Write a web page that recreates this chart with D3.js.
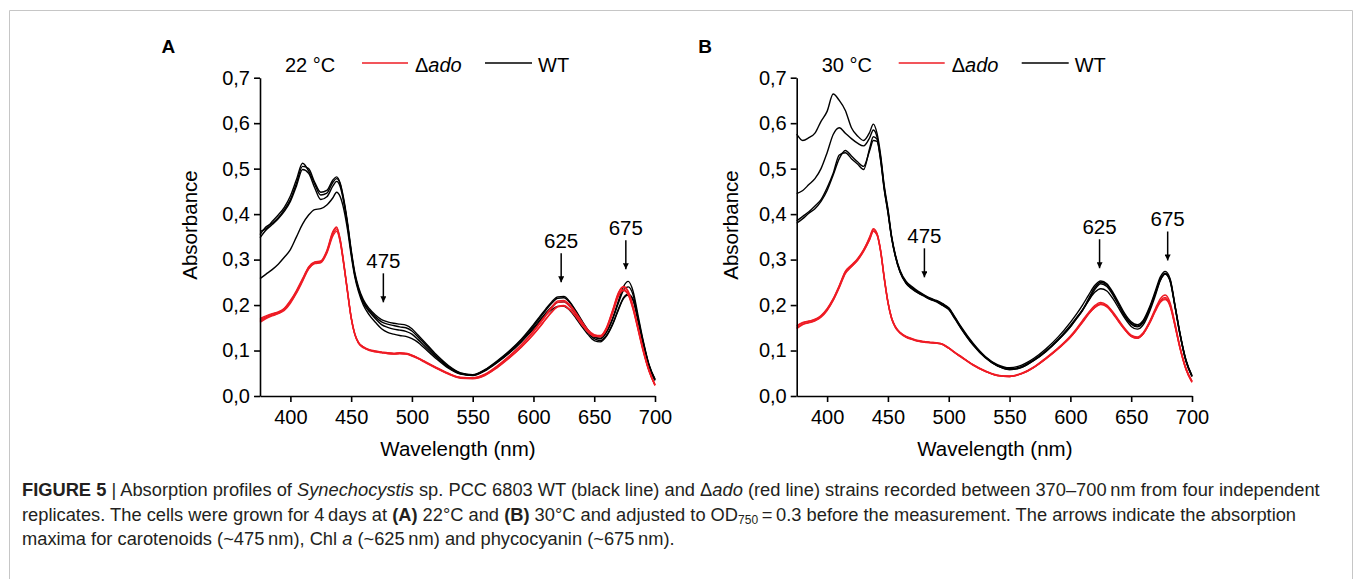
<!DOCTYPE html>
<html>
<head>
<meta charset="utf-8">
<script src="https://cdn.jsdelivr.net/npm/d3@7"></script>
<style>
  body { margin: 0; background: #fff; }
  svg { display: block; font-family: "Liberation Sans", Arial, Helvetica, sans-serif; }
</style>
</head>
<body>
<script>
// wavelength grid (nm) shared by every spectrum
const wavelengths = [
  375, 380, 385, 390, 395, 400, 405, 410, 415, 420,
  425, 430, 435, 438, 441, 444, 447, 450, 453, 456,
  460, 465, 470, 475, 480, 485, 490, 495, 500, 505,
  510, 520, 530, 540, 550, 560, 570, 580, 590, 600,
  605, 610, 615, 620, 625, 630, 635, 640, 645, 650,
  655, 660, 665, 670, 674, 678, 682, 686, 690, 695, 700
];

const yTicks = [0, 0.1, 0.2, 0.3, 0.4, 0.5, 0.6, 0.7];
const xTicks = [400, 450, 500, 550, 600, 650, 700];

// (A) 22 °C, WT replicates
const wtA1 = [
  0.355,0.372,0.380,0.392,0.410,0.432,0.468,0.505,0.500,0.470,
  0.448,0.452,0.475,0.482,0.468,0.432,0.382,0.322,0.272,0.240,
  0.212,0.192,0.178,0.168,0.163,0.160,0.158,0.156,0.148,0.134,
  0.120,0.091,0.067,0.051,0.047,0.058,0.077,0.099,0.125,0.157,
  0.174,0.191,0.207,0.218,0.219,0.207,0.187,0.165,0.145,0.130,
  0.126,0.140,0.170,0.210,0.240,0.252,0.230,0.178,0.125,0.070,0.037];
const wtA2 = [
  0.362,0.368,0.384,0.398,0.415,0.440,0.476,0.512,0.495,0.466,
  0.442,0.446,0.470,0.478,0.466,0.428,0.378,0.318,0.268,0.236,
  0.208,0.188,0.174,0.163,0.158,0.155,0.152,0.150,0.143,0.130,
  0.116,0.088,0.065,0.050,0.046,0.057,0.075,0.097,0.123,0.154,
  0.171,0.188,0.204,0.215,0.216,0.205,0.185,0.163,0.144,0.130,
  0.127,0.141,0.168,0.205,0.232,0.240,0.222,0.172,0.122,0.068,0.036];
const wtA3 = [
  0.348,0.365,0.377,0.390,0.406,0.428,0.462,0.498,0.490,0.458,
  0.432,0.438,0.462,0.472,0.460,0.425,0.376,0.316,0.266,0.234,
  0.205,0.185,0.170,0.157,0.151,0.147,0.145,0.142,0.136,0.124,
  0.111,0.085,0.063,0.049,0.046,0.056,0.074,0.095,0.120,0.150,
  0.166,0.182,0.196,0.206,0.207,0.197,0.179,0.158,0.140,0.126,
  0.122,0.133,0.158,0.192,0.216,0.224,0.212,0.168,0.120,0.067,0.035];
const wtA4 = [
  0.258,0.268,0.278,0.290,0.305,0.322,0.350,0.378,0.398,0.410,
  0.412,0.420,0.436,0.448,0.438,0.410,0.366,0.310,0.262,0.230,
  0.200,0.178,0.162,0.148,0.140,0.136,0.133,0.131,0.126,0.118,
  0.106,0.082,0.061,0.048,0.045,0.055,0.073,0.094,0.119,0.147,
  0.163,0.178,0.190,0.197,0.197,0.188,0.171,0.152,0.135,0.122,
  0.119,0.131,0.156,0.190,0.214,0.222,0.210,0.166,0.118,0.066,0.034];

// (A) 22 °C, Δado replicates
const adoA1 = [
  0.170,0.176,0.181,0.185,0.193,0.210,0.232,0.258,0.284,0.295,
  0.297,0.320,0.362,0.372,0.345,0.292,0.232,0.174,0.137,0.118,
  0.108,0.102,0.099,0.097,0.095,0.094,0.095,0.094,0.090,0.084,
  0.077,0.063,0.050,0.041,0.040,0.048,0.066,0.088,0.113,0.143,
  0.160,0.178,0.196,0.209,0.210,0.200,0.183,0.163,0.145,0.135,
  0.133,0.150,0.188,0.228,0.241,0.230,0.197,0.152,0.106,0.058,0.025];
const adoA2 = [
  0.165,0.172,0.178,0.182,0.190,0.206,0.228,0.254,0.280,0.292,
  0.294,0.316,0.356,0.366,0.340,0.288,0.229,0.172,0.136,0.117,
  0.107,0.101,0.098,0.096,0.094,0.093,0.094,0.093,0.089,0.083,
  0.076,0.062,0.049,0.041,0.040,0.047,0.065,0.087,0.112,0.141,
  0.158,0.176,0.193,0.206,0.207,0.197,0.180,0.160,0.143,0.133,
  0.132,0.149,0.186,0.226,0.239,0.228,0.195,0.150,0.105,0.057,0.024];
const adoA3 = [
  0.168,0.174,0.180,0.184,0.192,0.208,0.230,0.256,0.283,0.294,
  0.296,0.318,0.360,0.370,0.343,0.290,0.230,0.173,0.136,0.118,
  0.108,0.101,0.098,0.096,0.094,0.093,0.094,0.093,0.089,0.083,
  0.076,0.062,0.049,0.040,0.039,0.046,0.063,0.084,0.108,0.136,
  0.152,0.169,0.185,0.197,0.199,0.190,0.175,0.157,0.141,0.132,
  0.131,0.147,0.183,0.222,0.234,0.224,0.192,0.148,0.103,0.056,0.024];
const adoA4 = [
  0.162,0.170,0.176,0.181,0.188,0.204,0.226,0.252,0.279,0.291,
  0.293,0.314,0.352,0.362,0.338,0.287,0.228,0.171,0.135,0.116,
  0.106,0.100,0.097,0.095,0.093,0.092,0.093,0.092,0.088,0.082,
  0.075,0.061,0.048,0.039,0.038,0.045,0.062,0.083,0.107,0.135,
  0.151,0.168,0.184,0.196,0.198,0.189,0.174,0.156,0.140,0.131,
  0.130,0.146,0.181,0.220,0.232,0.222,0.190,0.146,0.101,0.055,0.023];

// (B) 30 °C, WT replicates
const wtB1 = [
  0.576,0.562,0.568,0.578,0.604,0.626,0.664,0.650,0.628,0.590,
  0.572,0.562,0.580,0.598,0.578,0.530,0.462,0.412,0.352,0.312,
  0.276,0.252,0.240,0.230,0.222,0.215,0.210,0.203,0.194,0.174,
  0.153,0.116,0.087,0.069,0.062,0.068,0.083,0.104,0.130,0.162,
  0.180,0.200,0.222,0.243,0.253,0.247,0.228,0.204,0.180,0.163,
  0.157,0.167,0.195,0.232,0.262,0.274,0.258,0.200,0.140,0.080,0.045];
const wtB2 = [
  0.445,0.452,0.465,0.478,0.500,0.535,0.575,0.590,0.578,0.566,
  0.556,0.550,0.568,0.585,0.570,0.525,0.458,0.408,0.350,0.310,
  0.274,0.250,0.238,0.228,0.221,0.214,0.209,0.202,0.193,0.173,
  0.151,0.114,0.086,0.067,0.060,0.065,0.080,0.100,0.125,0.155,
  0.172,0.190,0.210,0.228,0.236,0.231,0.214,0.192,0.170,0.153,
  0.147,0.157,0.185,0.222,0.254,0.268,0.254,0.198,0.138,0.078,0.044];
const wtB3 = [
  0.385,0.395,0.405,0.418,0.432,0.458,0.490,0.530,0.535,0.522,
  0.510,0.498,0.545,0.570,0.565,0.520,0.455,0.405,0.349,0.309,
  0.273,0.248,0.236,0.227,0.220,0.213,0.208,0.200,0.191,0.171,
  0.150,0.113,0.085,0.066,0.058,0.063,0.078,0.098,0.123,0.152,
  0.170,0.189,0.214,0.238,0.250,0.244,0.225,0.200,0.176,0.160,
  0.154,0.164,0.192,0.228,0.258,0.270,0.255,0.198,0.138,0.078,0.043];
const wtB4 = [
  0.380,0.390,0.402,0.412,0.428,0.452,0.486,0.522,0.540,0.528,
  0.515,0.505,0.540,0.562,0.560,0.518,0.453,0.403,0.348,0.308,
  0.272,0.247,0.235,0.226,0.219,0.212,0.207,0.199,0.190,0.170,
  0.149,0.112,0.084,0.066,0.058,0.063,0.078,0.098,0.123,0.152,
  0.170,0.188,0.210,0.234,0.247,0.241,0.222,0.198,0.174,0.158,
  0.152,0.162,0.190,0.226,0.255,0.268,0.252,0.196,0.137,0.077,0.043];

// (B) 30 °C, Δado replicates
const adoB1 = [
  0.155,0.162,0.165,0.168,0.177,0.192,0.214,0.243,0.274,0.288,
  0.302,0.322,0.348,0.366,0.357,0.320,0.260,0.207,0.172,0.153,
  0.139,0.130,0.125,0.121,0.119,0.118,0.117,0.114,0.106,0.096,
  0.087,0.069,0.055,0.046,0.044,0.050,0.064,0.084,0.106,0.132,
  0.148,0.166,0.184,0.199,0.206,0.200,0.185,0.166,0.148,0.134,
  0.130,0.140,0.163,0.193,0.214,0.222,0.205,0.160,0.110,0.062,0.033];
const adoB2 = [
  0.150,0.158,0.162,0.166,0.175,0.189,0.211,0.240,0.271,0.285,
  0.299,0.319,0.344,0.362,0.354,0.317,0.257,0.205,0.170,0.151,
  0.138,0.129,0.124,0.120,0.118,0.117,0.116,0.113,0.105,0.095,
  0.086,0.068,0.054,0.045,0.043,0.049,0.063,0.082,0.104,0.129,
  0.145,0.162,0.180,0.194,0.201,0.196,0.181,0.162,0.145,0.131,
  0.127,0.137,0.159,0.187,0.206,0.212,0.197,0.154,0.106,0.059,0.031];
const adoB3 = [
  0.153,0.161,0.164,0.169,0.176,0.191,0.213,0.242,0.273,0.287,
  0.301,0.321,0.350,0.368,0.358,0.321,0.261,0.208,0.172,0.153,
  0.140,0.131,0.126,0.122,0.120,0.118,0.117,0.114,0.106,0.096,
  0.087,0.069,0.055,0.045,0.043,0.049,0.063,0.083,0.105,0.130,
  0.146,0.164,0.182,0.196,0.203,0.198,0.183,0.164,0.146,0.132,
  0.128,0.138,0.161,0.190,0.210,0.217,0.201,0.157,0.108,0.060,0.032];
const adoB4 = [
  0.148,0.157,0.161,0.165,0.173,0.188,0.210,0.238,0.269,0.284,
  0.298,0.318,0.345,0.363,0.355,0.318,0.258,0.206,0.171,0.152,
  0.139,0.130,0.125,0.121,0.119,0.117,0.116,0.113,0.105,0.095,
  0.086,0.068,0.054,0.045,0.043,0.049,0.063,0.082,0.104,0.129,
  0.145,0.163,0.181,0.195,0.202,0.197,0.182,0.163,0.145,0.131,
  0.127,0.137,0.160,0.189,0.208,0.214,0.199,0.155,0.107,0.059,0.030];

// arrow annotations: label, wavelength and absorbance of the arrow tip
const arrowLabels = ["475", "625", "675"];
const arrowWlA = [476.5, 622.8, 676];
const arrowTipA = [0.206, 0.250, 0.279];
const arrowWlB = [480, 624, 680];
const arrowTipB = [0.261, 0.281, 0.298];

const panels = [
  {label: "A", temp: "22 °C", wt: [wtA1, wtA2, wtA3, wtA4], ado: [adoA1, adoA2, adoA3, adoA4],
   arrowWl: arrowWlA, arrowTip: arrowTipA, left: 260, right: 655, yLabelX: 196.5},
  {label: "B", temp: "30 °C", wt: [wtB1, wtB2, wtB3, wtB4], ado: [adoB1, adoB2, adoB3, adoB4],
   arrowWl: arrowWlB, arrowTip: arrowTipB, left: 796.7, right: 1192, yLabelX: 738}
];

const width = 1355, height = 579;
const plotTop = 77.7, plotBottom = 396;
const red = "#ee1c25";

const svg = d3.select("body").append("svg")
    .attr("width", width)
    .attr("height", height);

svg.append("rect")
    .attr("width", width)
    .attr("height", height)
    .attr("fill", "#fff");

// light frame around the figure
svg.append("path")
    .attr("d", `M9.5,${height} V10.5 H1352.5 V${height}`)
    .attr("fill", "none")
    .attr("stroke", "#c6c6c6");

svg.append("defs").append("marker")
    .attr("id", "head")
    .attr("viewBox", "0 0 10 10")
    .attr("refX", 10)
    .attr("refY", 5)
    .attr("markerWidth", 6)
    .attr("markerHeight", 6)
    .attr("markerUnits", "userSpaceOnUse")
    .attr("orient", "auto")
  .append("path")
    .attr("d", "M0,0 L10,5 L0,10 z")
    .attr("fill", "#000");

const comma = d => d.toFixed(1).replace(".", ",");

panels.forEach(p => {
  const x = d3.scaleLinear().domain([375, 700]).range([p.left, p.right]);
  const y = d3.scaleLinear().domain([0, 0.7]).range([plotBottom, plotTop]);

  const g = svg.append("g");

  const line = d3.line()
      .x((d, i) => x(wavelengths[i]))
      .y(d => y(d))
      .curve(d3.curveMonotoneX);

  g.append("g")
      .attr("fill", "none")
      .attr("stroke", "#000")
      .attr("stroke-width", 1.4)
    .selectAll("path")
    .data(p.wt)
    .join("path")
      .attr("d", line);

  g.append("g")
      .attr("fill", "none")
      .attr("stroke", red)
      .attr("stroke-width", 1.4)
    .selectAll("path")
    .data(p.ado)
    .join("path")
      .attr("d", line);

  const yAxis = g.append("g")
      .attr("transform", `translate(${p.left},0)`)
      .call(d3.axisLeft(y).tickValues(yTicks).tickFormat(comma).tickSize(6).tickPadding(4).tickSizeOuter(0));

  const xAxis = g.append("g")
      .attr("transform", `translate(0,${plotBottom})`)
      .call(d3.axisBottom(x).tickValues(xTicks).tickSize(6).tickPadding(8).tickSizeOuter(0));

  [yAxis, xAxis].forEach(a => {
    a.attr("font-size", 20).attr("font-family", null);
    a.selectAll("path, line").attr("stroke", "#000").attr("stroke-width", 1.6);
    a.selectAll("text").attr("fill", "#000");
  });

  g.append("text")
      .attr("transform", `translate(${p.yLabelX},${225}) rotate(-90)`)
      .attr("text-anchor", "middle")
      .attr("font-size", 20.5)
      .text("Absorbance");

  g.append("text")
      .attr("x", (p.left + p.right) / 2 + 0.5)
      .attr("y", 456)
      .attr("text-anchor", "middle")
      .attr("font-size", 20.5)
      .text("Wavelength (nm)");

  // panel letter
  g.append("text")
      .attr("x", p.left - 98.5)
      .attr("y", 52.5)
      .attr("font-size", 19)
      .attr("font-weight", "bold")
      .text(p.label);

  // legend row
  const leg = g.append("g").attr("font-size", 20);
  leg.append("text")
      .attr("x", p.left + 25)
      .attr("y", 71.5)
      .text(p.temp);
  leg.append("line")
      .attr("x1", p.left + 102).attr("x2", p.left + 148)
      .attr("y1", 63).attr("y2", 63)
      .attr("stroke", red).attr("stroke-width", 1.5);
  const ado = leg.append("text")
      .attr("x", p.left + 155)
      .attr("y", 71.5);
  ado.append("tspan").text("Δ");
  ado.append("tspan").attr("font-style", "italic").text("ado");
  leg.append("line")
      .attr("x1", p.left + 225).attr("x2", p.left + 272)
      .attr("y1", 63).attr("y2", 63)
      .attr("stroke", "#000").attr("stroke-width", 1.5);
  leg.append("text")
      .attr("x", p.left + 278)
      .attr("y", 71.5)
      .text("WT");

  // absorption maxima arrows
  const arrows = g.append("g")
    .selectAll("g")
    .data(arrowLabels)
    .join("g")
      .attr("transform", (d, i) => `translate(${x(p.arrowWl[i])},${y(p.arrowTip[i])})`);

  arrows.append("line")
      .attr("y1", -29)
      .attr("y2", 0)
      .attr("stroke", "#000")
      .attr("stroke-width", 1.5)
      .attr("marker-end", "url(#head)");

  arrows.append("text")
      .attr("y", -34)
      .attr("text-anchor", "middle")
      .attr("font-size", 20.5)
      .text(d => d);
});

// caption
const cap = svg.append("g")
    .attr("font-size", 18.3)
    .attr("fill", "#231f20");

const l1 = cap.append("text").attr("x", 22).attr("y", 496);
l1.append("tspan").attr("font-weight", "bold").text("FIGURE 5");
l1.append("tspan").text(" | Absorption profiles of ");
l1.append("tspan").attr("font-style", "italic").text("Synechocystis");
l1.append("tspan").text(" sp. PCC 6803 WT (black line) and Δ");
l1.append("tspan").attr("font-style", "italic").text("ado");
l1.append("tspan").text(" (red line) strains recorded between 370–700\u2009nm from four independent");

const l2 = cap.append("text").attr("x", 22).attr("y", 520.5);
l2.append("tspan").text("replicates. The cells were grown for 4\u2009days at ");
l2.append("tspan").attr("font-weight", "bold").text("(A)");
l2.append("tspan").text(" 22°C and ");
l2.append("tspan").attr("font-weight", "bold").text("(B)");
l2.append("tspan").text(" 30°C and adjusted to OD");
l2.append("tspan").attr("font-size", 12).attr("dy", 3).text("750");
l2.append("tspan").attr("dy", -3).text("\u2009=\u20090.3 before the measurement. The arrows indicate the absorption");

const l3 = cap.append("text").attr("x", 22).attr("y", 545);
l3.append("tspan").text("maxima for carotenoids (~475\u2009nm), Chl ");
l3.append("tspan").attr("font-style", "italic").text("a");
l3.append("tspan").text(" (~625\u2009nm) and phycocyanin (~675\u2009nm).");
</script>
</body>
</html>
